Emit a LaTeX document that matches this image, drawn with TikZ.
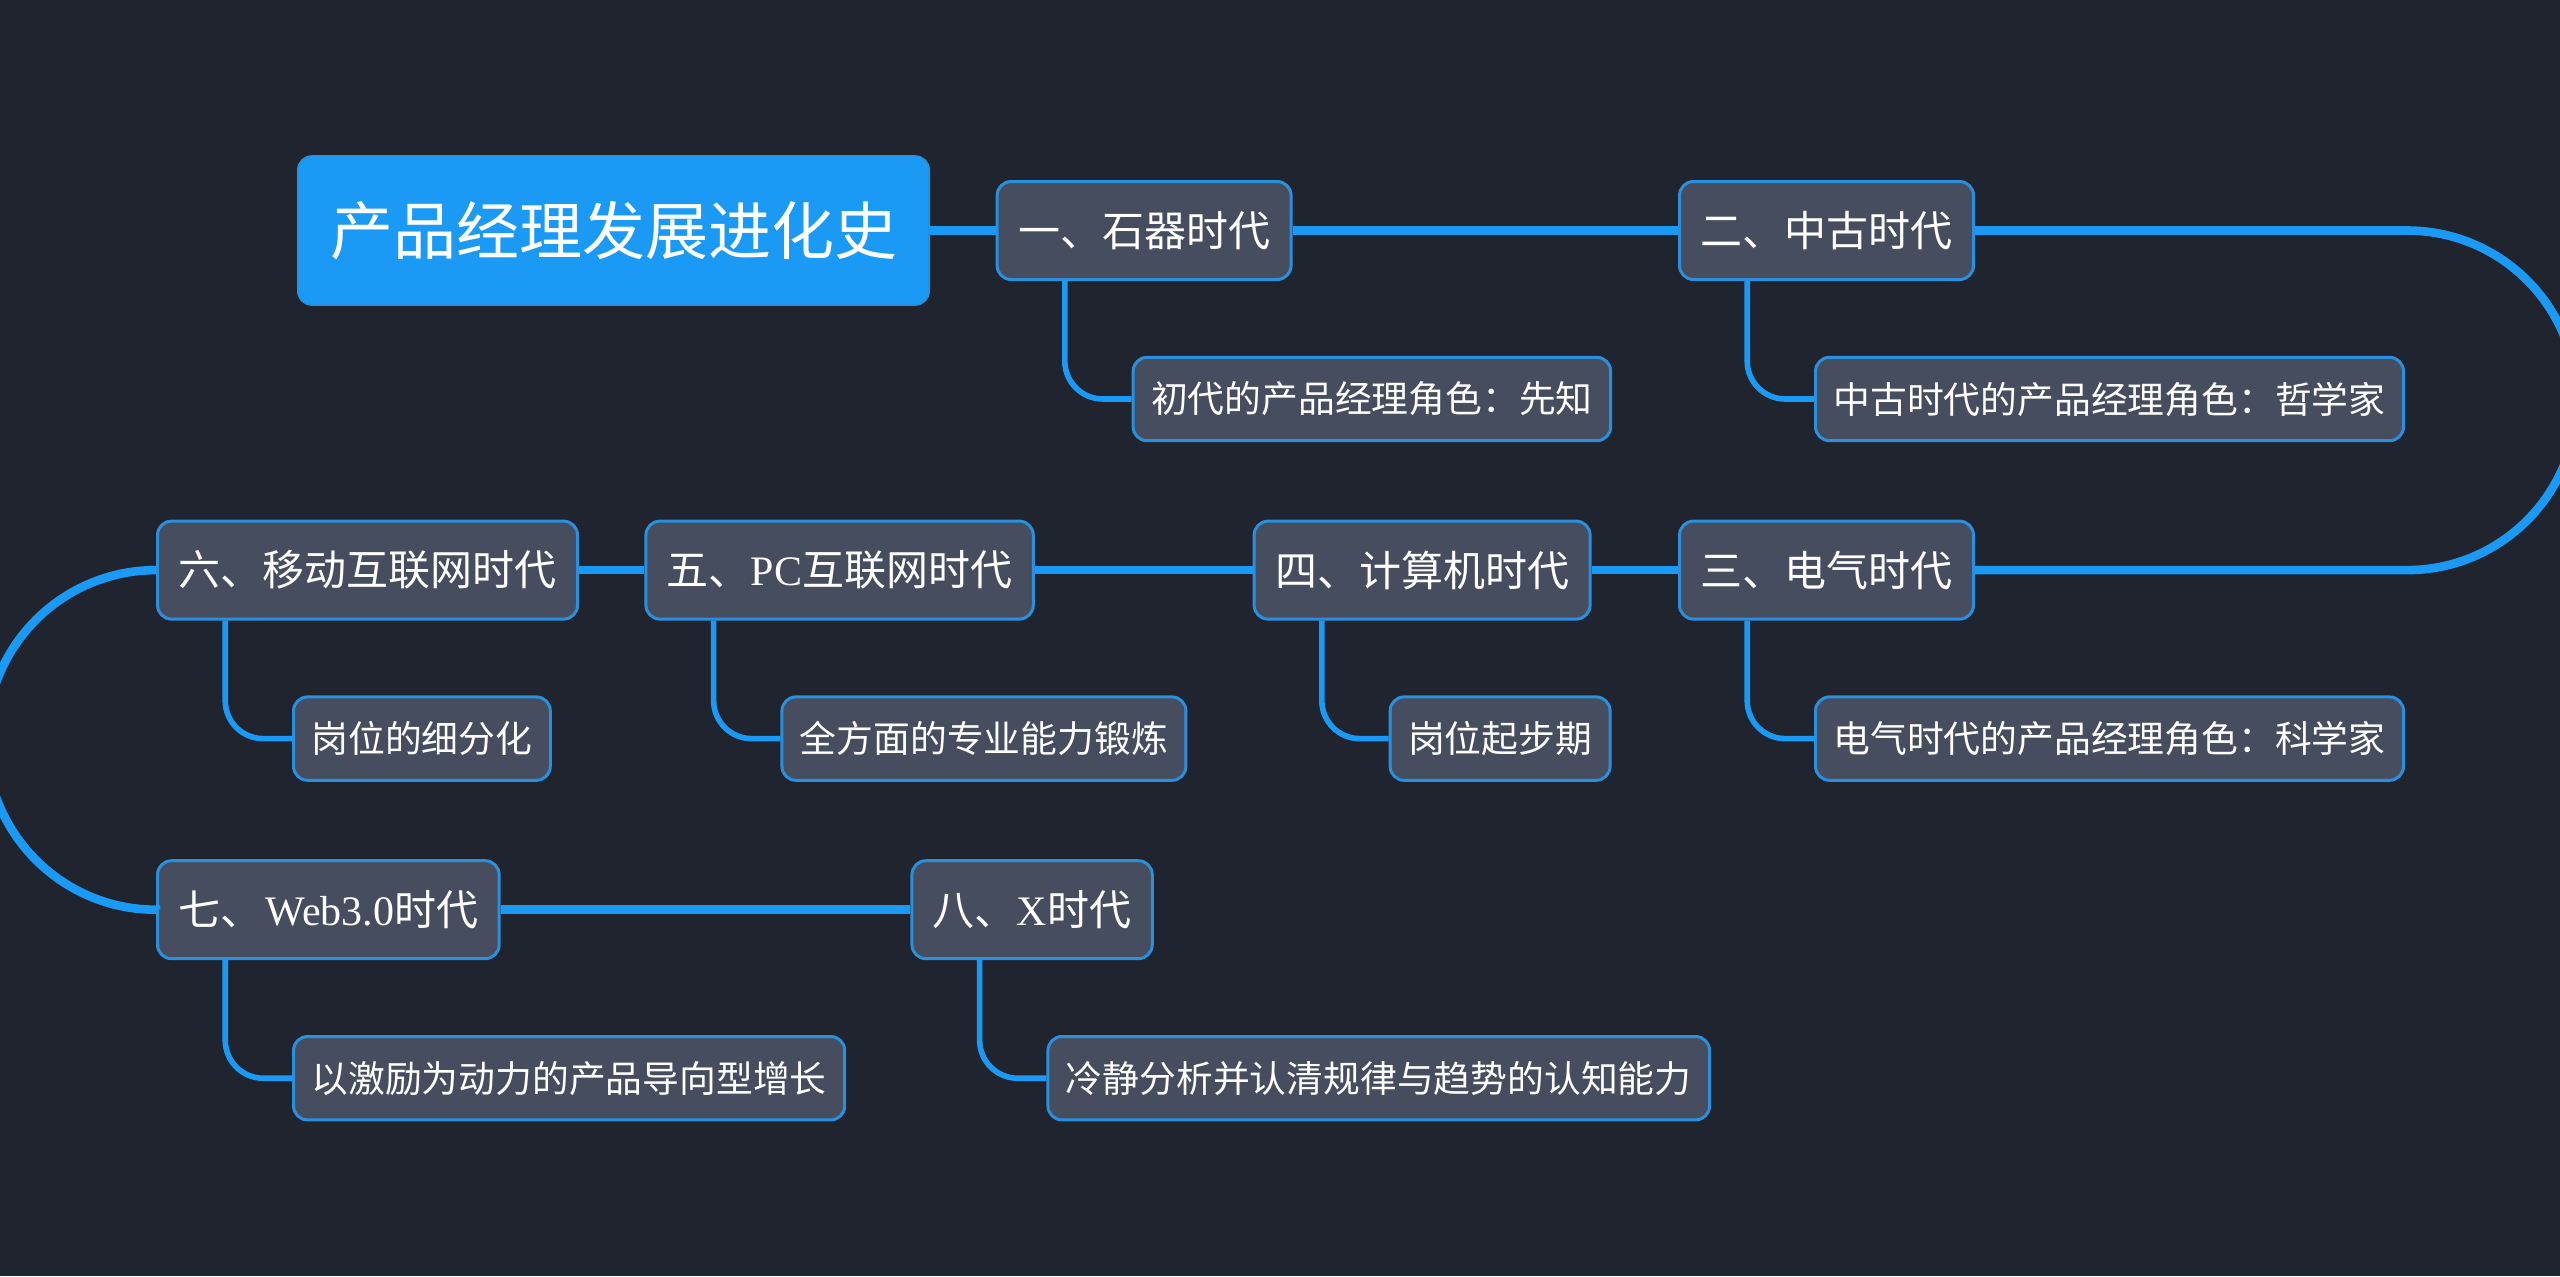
\documentclass[tikz,border=0pt]{standalone}
\usepackage{fontspec}
\usepackage{xcolor}
\usepackage{tikz}
\usetikzlibrary{positioning}
\setmainfont{Liberation Serif}
\newfontfamily\cjk{Noto Sans CJK SC}
\newcommand{\zh}[1]{{\cjk #1}}
\definecolor{bgdark}{HTML}{20242F}
\definecolor{boxfill}{HTML}{454D5E}
\definecolor{linkblue}{HTML}{1A9AF5}
\definecolor{edgeblue}{HTML}{2A8FDC}
\begin{document}
\begin{tikzpicture}[
            rootnode/.style={rectangle,rounded corners=7pt,fill=linkblue,draw=edgeblue,line width=0.8pt,text=white,
                             minimum height=74.5pt,inner xsep=16.1pt,font=\fontsize{31.5pt}{36pt}\selectfont},
            mainnode/.style={rectangle,rounded corners=7pt,fill=boxfill,draw=edgeblue,line width=1.5pt,text=white,
                             minimum height=49pt,inner xsep=10.5pt,font=\fontsize{21pt}{25pt}\selectfont},
            subnode/.style={rectangle,rounded corners=7pt,fill=boxfill,draw=edgeblue,line width=1.5pt,text=white,
                             minimum height=41.7pt,inner xsep=9pt,font=\fontsize{18.4pt}{22pt}\selectfont},
            subof/.style={subnode,below=37.4pt of #1.south west,anchor=north west,xshift=68pt}, % child box under its era
            trunk/.style={linkblue,line width=4.3pt},   % line from era to era
            branch/.style={linkblue,line width=2.8pt,rounded corners=19pt}  % line from era to child
          ]
          \useasboundingbox (0,0) rectangle (1280pt,-638pt);
          \fill[bgdark] (0,0) rectangle (1280pt,-638pt);

          \node[rootnode,anchor=west] (root) at (148.5pt,-115.25pt) {\zh{产品经理发展进化史}};

          % eras, row by row
          \node[mainnode] (n1) [right=32.8pt of root] {\zh{一、石器时代}};
          \node[mainnode] (n2) [right=192.7pt of n1] {\zh{二、中古时代}};
          \node[mainnode] (n3) [below=119.3pt of n2] {\zh{三、电气时代}};
          \node[mainnode] (n4) [left=43.2pt of n3] {\zh{四、计算机时代}};
          \node[mainnode] (n5) [left=108.9pt of n4] {\zh{五、}PC\zh{互联网时代}};
          \node[mainnode] (n6) [left=32.7pt of n5] {\zh{六、移动互联网时代}};
          \node[mainnode] (n7) [below=119.3pt of n6.south west,anchor=north west] {\zh{七、}\hspace{1.6pt}Web3.0\zh{时代}};
          \node[mainnode] (n8) [right=204.9pt of n7] {\zh{八、}X\zh{时代}};

          % children
          \node (s1) [subof=n1] {\zh{初代的产品经理角色：先知}};
          \node (s2) [subof=n2] {\zh{中古时代的产品经理角色：哲学家}};
          \node (s3) [subof=n3] {\zh{电气时代的产品经理角色：科学家}};
          \node (s4) [subof=n4] {\zh{岗位起步期}};
          \node (s5) [subof=n5] {\zh{全方面的专业能力锻炼}};
          \node (s6) [subof=n6] {\zh{岗位的细分化}};
          \node (s7) [subof=n7] {\zh{以激励为动力的产品导向型增长}};
          \node (s8) [subof=n8] {\zh{冷静分析并认清规律与趋势的认知能力}};

          \draw[trunk] (root) -- (n1);
          \draw[trunk] (n1) -- (n2);
          \draw[trunk] (n2.east) -- ++(216pt,0) arc[start angle=90,end angle=-90,radius=84.9pt] -- (n3.east);
          \draw[trunk] (n3) -- (n4);
          \draw[trunk] (n4) -- (n5);
          \draw[trunk] (n5) -- (n6);
          \draw[trunk] (n6.west) arc[start angle=90,end angle=270,radius=84.9pt] -- (n7.west);
          \draw[trunk] (n7) -- (n8);

          \foreach \i in {1,...,8}
            \draw[branch] ([xshift=34.6pt]n\i.south west) |- (s\i.west);
        \end{tikzpicture}
\end{document}
